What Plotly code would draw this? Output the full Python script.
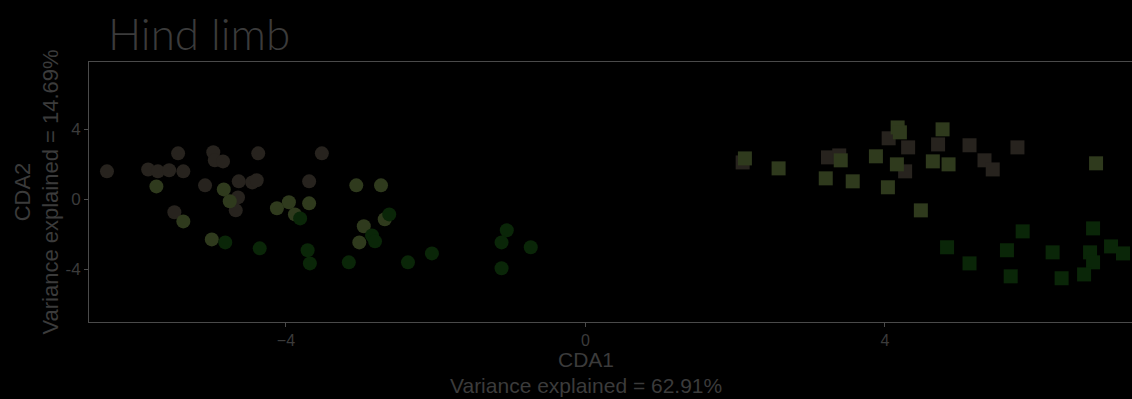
import plotly.graph_objects as go

# Canonical discriminant scores, hind limb measurements
# Group A (circles)
a_gray_x = [-6.39, -5.84, -5.71, -5.56, -5.37, -5.44, -5.08, -4.97, -4.95, -4.84, -4.37, -4.63, -4.45, -4.39, -4.64, -4.67, -5.49, -3.52, -3.69]
a_gray_y = [1.60, 1.71, 1.60, 1.66, 1.60, 2.63, 0.80, 2.69, 2.23, 2.17, 2.63, 1.03, 0.97, 1.09, 0.11, -0.63, -0.74, 2.63, 1.03]
a_olive_x = [-5.73, -4.83, -4.75, -5.37, -4.99, -3.06, -2.73, -3.96, -4.12, -3.69, -3.88, -2.68, -2.96, -3.02]
a_olive_y = [0.74, 0.57, -0.11, -1.26, -2.29, 0.80, 0.80, -0.17, -0.51, -0.23, -0.86, -1.14, -1.54, -2.46]
a_green_x = [-4.81, -4.35, -3.81, -2.62, -2.85, -2.81, -3.71, -3.68, -3.16, -2.37, -2.05, -1.05, -1.12, -0.73, -1.12]
a_green_y = [-2.46, -2.80, -1.09, -0.86, -2.06, -2.40, -2.91, -3.66, -3.60, -3.60, -3.09, -1.77, -2.46, -2.74, -3.94]

# Group B (squares)
b_gray_x = [2.10, 3.24, 3.39, 4.05, 4.31, 4.27, 4.71, 5.13, 5.77, 5.33, 5.44]
b_gray_y = [2.11, 2.40, 2.51, 3.49, 2.97, 1.60, 3.14, 3.09, 2.97, 2.23, 1.71]
b_olive_x = [2.13, 2.58, 3.41, 3.21, 3.57, 3.88, 4.17, 4.20, 4.16, 4.04, 4.77, 4.64, 4.85, 6.82, 4.48]
b_olive_y = [2.34, 1.77, 2.23, 1.20, 1.03, 2.46, 4.11, 3.83, 2.00, 0.69, 4.00, 2.17, 2.00, 2.06, -0.63]
b_green_x = [5.84, 6.78, 4.83, 5.63, 6.24, 6.74, 7.02, 7.18, 5.13, 6.78, 5.68, 6.36, 6.66]
b_green_y = [-1.83, -1.66, -2.74, -2.91, -3.03, -3.03, -2.69, -3.09, -3.66, -3.60, -4.40, -4.51, -4.29]

x_ticks = [-4, 0, 4]
y_ticks = [-4, 0, 4]
y_tick_text = ["-4", "0", "4"]

GRAY = "#27231e"
OLIVE = "#2f3a1d"
GREEN = "#0a2608"
TEXT = "#3b3b3b"
LINE = "#4a4a4a"
FONT = "Liberation Sans, Arial, sans-serif"

fig = go.Figure()

series = [
    (a_gray_x, a_gray_y, GRAY, "circle"),
    (a_olive_x, a_olive_y, OLIVE, "circle"),
    (a_green_x, a_green_y, GREEN, "circle"),
    (b_gray_x, b_gray_y, GRAY, "square"),
    (b_olive_x, b_olive_y, OLIVE, "square"),
    (b_green_x, b_green_y, GREEN, "square"),
]
for xs, ys, col, sym in series:
    fig.add_trace(go.Scatter(
        x=xs, y=ys, mode="markers",
        marker=dict(color=col, size=14, symbol=sym, line=dict(width=0)),
        showlegend=False, hoverinfo="skip",
    ))

fig.update_layout(
    width=1132, height=399,
    paper_bgcolor="#000000", plot_bgcolor="#000000",
    margin=dict(l=89, r=0, t=62, b=77),
    font=dict(family=FONT, color=TEXT, size=16),
    xaxis=dict(
        range=[-6.63, 7.30], tickvals=x_ticks,
        showgrid=False, zeroline=False,
        showline=True, linecolor=LINE, linewidth=1, mirror=True,
        ticks="outside", ticklen=4, tickcolor=LINE,
        tickfont=dict(size=16, color=TEXT),
    ),
    yaxis=dict(
        range=[-7.01, 7.85], tickvals=y_ticks, ticktext=y_tick_text,
        showgrid=False, zeroline=False,
        showline=True, linecolor=LINE, linewidth=1, mirror=False,
        ticks="outside", ticklen=4, tickcolor=LINE,
        tickfont=dict(size=17, color=TEXT),
        title=dict(text="CDA2<br>Variance explained = 14.69%",
                   font=dict(size=22, color=TEXT), standoff=0),
    ),
    annotations=[
        dict(text="Hind limb", xref="paper", yref="paper",
             x=(106 - 89) / 1043, y=1.0, xanchor="left", yanchor="bottom",
             yshift=1, showarrow=False,
             font=dict(family="Lato, sans-serif", size=44, color=TEXT, weight=300)),
        dict(text="CDA1", xref="paper", yref="paper",
             x=(586 - 89) / 1043, y=0, xanchor="center", yanchor="middle",
             yshift=-37, showarrow=False,
             font=dict(size=21, color=TEXT)),
        dict(text="Variance explained = 62.91%", xref="paper", yref="paper",
             x=(586 - 89) / 1043, y=0, xanchor="center", yanchor="middle",
             yshift=-63, showarrow=False,
             font=dict(size=21, color=TEXT)),
    ],
)

fig.write_html("out.html")
